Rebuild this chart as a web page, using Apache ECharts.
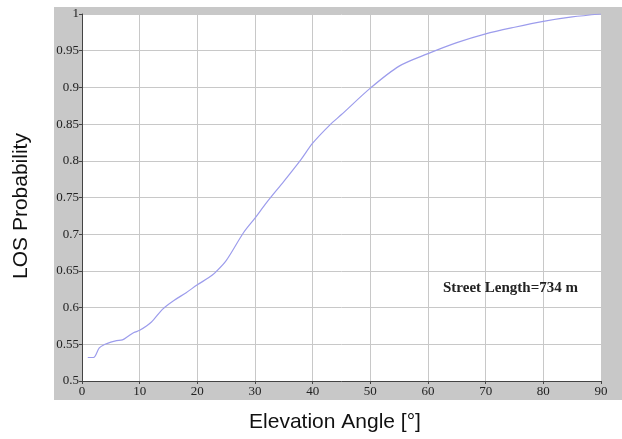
<!DOCTYPE html>
<html><head><meta charset="utf-8">
<script src="https://cdn.jsdelivr.net/npm/echarts@6/dist/echarts.min.js"></script>
<style>html,body{margin:0;padding:0;background:#fff}#c{width:622px;height:439px}</style>
</head><body><div id="c"></div>
<script>
var angles = [1,2,3,4,5,6,7,8,9,10,12,14,16,18,20,22,23,25,28,30,32,35,38,40,43,45,50,55,60,65,70,75,80,85,90];
var losProb = [0.532,0.532,0.545,0.550,0.553,0.555,0.556,0.561,0.566,0.569,0.580,0.598,0.610,0.620,0.631,0.641,0.647,0.664,0.702,0.722,0.743,0.772,0.802,0.824,0.849,0.863,0.899,0.929,0.946,0.961,0.973,0.982,0.990,0.996,1.0];
var xTitle = 'Elevation Angle [°]';
var yTitle = 'LOS Probability';
var note = 'Street Length=734 m';

var chart = echarts.init(document.getElementById('c'), null, {renderer:'canvas'});
var data = angles.map(function(a,i){return [a, losProb[i]];});
chart.setOption({
  animation:false,
  backgroundColor:'#fff',
  graphic:[
    {type:'rect', z:-10, shape:{x:54,y:7,width:568,height:393}, style:{fill:'#c8c8c8'}},
    {type:'text', z:10, x:443, y:288, style:{text:note, font:'bold 15px "Liberation Serif"', fill:'#222', verticalAlign:'middle', align:'left'}},
    {type:'text', z:10, x:335, y:422, style:{text:xTitle, font:'21px "Liberation Sans"', fill:'#111', verticalAlign:'middle', align:'center'}},
    {type:'text', z:10, x:21, y:206, rotation:Math.PI/2, style:{text:yTitle, font:'21px "Liberation Sans"', fill:'#111', verticalAlign:'middle', align:'center'}}
  ],
  grid:{left:82, top:14, width:519, height:367, show:true, backgroundColor:'#fff', borderWidth:0},
  xAxis:{type:'value', min:0, max:90, interval:10,
    axisLine:{show:true, lineStyle:{color:'#444', width:1}},
    axisTick:{show:true, length:3, lineStyle:{color:'#444'}},
    axisLabel:{fontFamily:'Liberation Serif', fontSize:13, color:'#222', margin:4},
    splitLine:{show:true, lineStyle:{color:'#c8c8c8', width:1}}
  },
  yAxis:{type:'value', min:0.5, max:1, interval:0.05,
    axisLine:{show:true, lineStyle:{color:'#444', width:1}},
    axisTick:{show:true, length:3, lineStyle:{color:'#444'}},
    axisLabel:{fontFamily:'Liberation Serif', fontSize:13, color:'#222', margin:3,
      formatter:function(v){return String(+v.toFixed(2));}},
    splitLine:{show:true, lineStyle:{color:'#c8c8c8', width:1}}
  },
  series:[{type:'line', data:data, smooth:0.3, showSymbol:false,
    lineStyle:{color:'#9c9cec', width:1.2}}]
});
</script></body></html>
